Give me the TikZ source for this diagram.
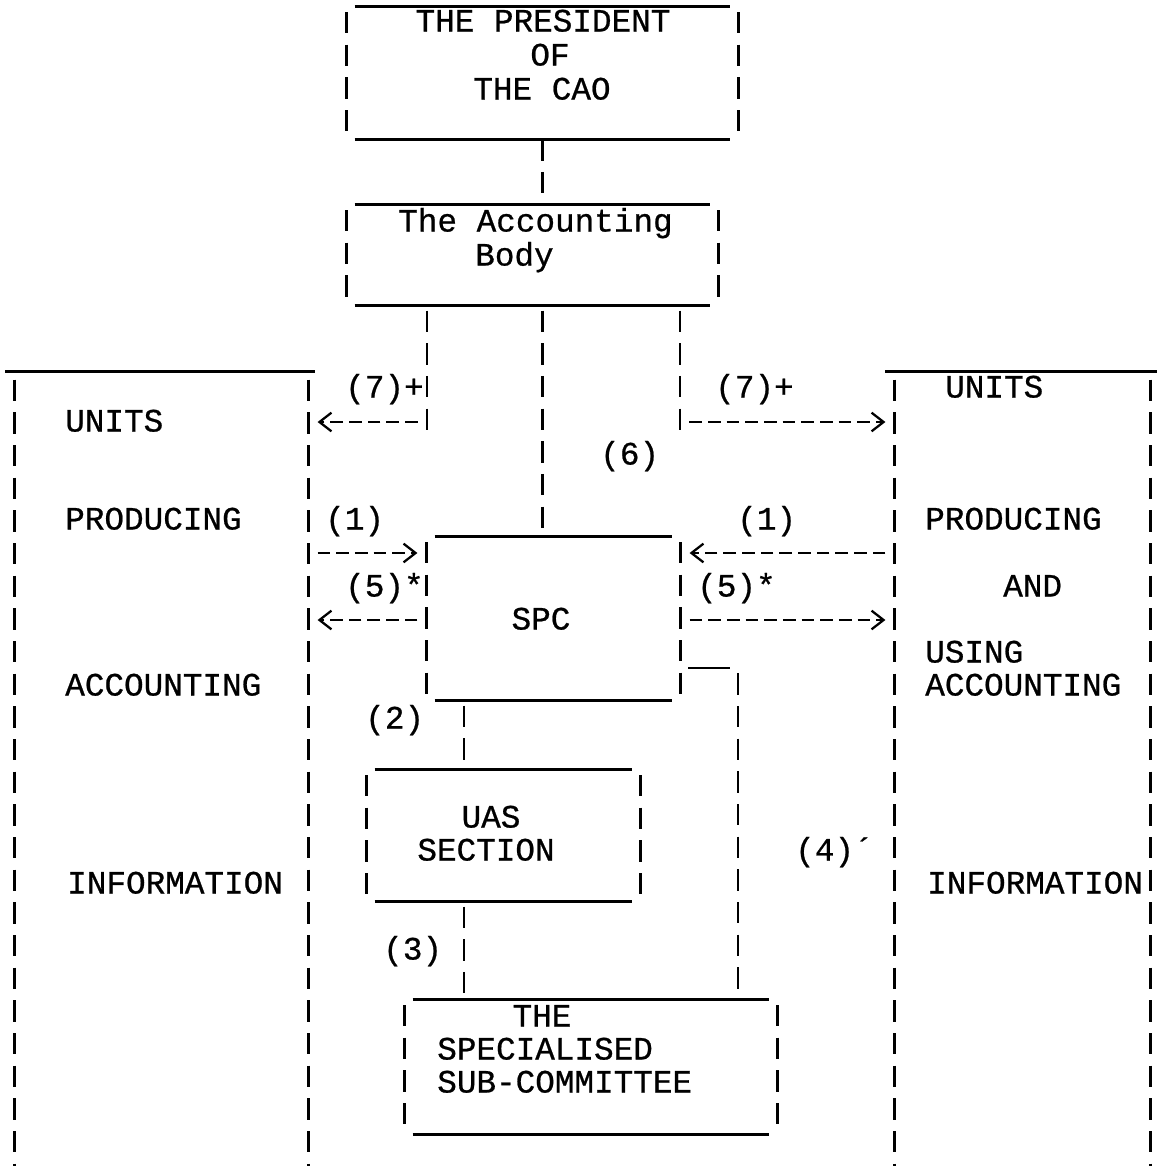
\documentclass[tikz,border=0pt]{standalone}
\usepackage{fontspec}
\setmonofont{Liberation Mono}[FakeBold=0.7]
\usetikzlibrary{arrows.meta,fit}
\begin{document}
\begin{tikzpicture}[x=0.75pt,y=-0.75pt,
  hl/.style={line width=2pt},
  vl/.style={line width=2pt, dash pattern=on 16pt off 8.5pt},
  arr/.style={line width=1.7pt, dash pattern=on 9.5pt off 4.5pt,
    -{Straight Barb[length=9pt,width=14pt]}, shorten >=7pt, shorten <=7pt},
  txt/.style={font=\ttfamily\fontsize{24.5}{30}\selectfont, inner sep=0pt, anchor=mid west, yshift=-5pt},
  ctxt/.style={txt, anchor=mid},
  area/.style={inner sep=0pt, draw=none}]
\useasboundingbox (0,0) rectangle (1156,1166);

% box areas
\coordinate (presA) at (347,7);   \coordinate (presB) at (738,139);
\coordinate (accA) at (347,205);  \coordinate (accB) at (718,305);
\coordinate (lbA) at (15,372);    \coordinate (lbB) at (308,1166);
\coordinate (rbA) at (895,372);   \coordinate (rbB) at (1150,1166);
\coordinate (spcA) at (427,537);  \coordinate (spcB) at (680,700);
\coordinate (uasA) at (367,770);  \coordinate (uasB) at (640,901);
\coordinate (sscA) at (405,1000); \coordinate (sscB) at (777,1134);
\node[area, fit=(presA)(presB)] (pres) {};
\node[area, fit=(accA)(accB)] (acc) {};
\node[area, fit=(lbA)(lbB)] (lbox) {};
\node[area, fit=(rbA)(rbB)] (rbox) {};
\node[area, fit=(spcA)(spcB)] (spc) {};
\node[area, fit=(uasA)(uasB)] (uas) {};
\node[area, fit=(sscA)(sscB)] (ssc) {};

% outlines
\foreach \b in {pres,acc,spc,uas,ssc}{
  \draw[hl] ([xshift=6pt]\b.north west) -- ([xshift=-6pt]\b.north east)
            ([xshift=6pt]\b.south west) -- ([xshift=-6pt]\b.south east);
  \draw[vl] ([yshift=-4pt]\b.north west) -- (\b.south west)
            ([yshift=-4pt]\b.north east) -- (\b.south east);
}
\foreach \b in {lbox,rbox}{
  \draw[hl] ([xshift=-7pt]\b.north west) -- ([xshift=5pt]\b.north east);
  \draw[vl] ([yshift=-6pt]\b.north west) -- (\b.south west)
            ([yshift=-6pt]\b.north east) -- (\b.south east);
}

% helper coordinates
\coordinate (j7l) at (427,437);
\coordinate (j7r) at (680,437);
\coordinate (r7) at (0,422);
\coordinate (r1) at (0,553);
\coordinate (r5) at (0,620);
\coordinate (k4) at (738,668);
\coordinate (x2) at (464,0);

% vertical connectors
\draw[vl] (pres.south) -- (acc.north -| pres.south);
\draw[vl] ([yshift=-4pt]acc.south -| pres.south) -- (spc.north -| pres.south);
\draw[vl] ([yshift=-4pt]acc.south -| j7l) -- (j7l);
\draw[vl] ([yshift=-4pt]acc.south -| j7r) -- (j7r);
\draw[hl] ([xshift=6pt]spc.east |- k4) -- ([xshift=-6pt]k4);
\draw[vl] ([yshift=-4pt]k4) -- (ssc.north -| k4);
\draw[vl] ([yshift=-4pt]spc.south -| x2) -- (uas.north -| x2);
\draw[vl] ([yshift=-4pt]uas.south -| x2) -- (ssc.north -| x2);

% arrows
\draw[arr] (j7l |- r7) -- (lbox.east |- r7);
\draw[arr] (j7r |- r7) -- (rbox.west |- r7);
\draw[arr] (lbox.east |- r1) -- (spc.west |- r1);
\draw[arr] (rbox.west |- r1) -- (spc.east |- r1);
\draw[arr] (spc.west |- r5) -- (lbox.east |- r5);
\draw[arr] (spc.east |- r5) -- (rbox.west |- r5);

% box texts
\node[ctxt] (tp1) at (543,22) {THE PRESIDENT};
\node[ctxt] (tp2) at (550,56) {OF};
\node[ctxt] (tp3) at (542,90) {THE CAO};
\node[txt] (ta1) at (398,222) {The Accounting};
\node[txt] (ta2) at (475,256) {Body};
\node[txt] (tl1) at (65,422) {UNITS};
\node[txt] (tl2) at (65,520) {PRODUCING};
\node[txt] (tl3) at (65,686) {ACCOUNTING};
\node[txt] (tl4) at (67,884) {INFORMATION};
\node[txt] (tr1) at (945,388) {UNITS};
\node[txt] (tr2) at (925,520) {PRODUCING};
\node[txt] (tr3) at (1003,587) {AND};
\node[txt] (tr4) at (925,653) {USING};
\node[txt] (tr5) at (925,686) {ACCOUNTING};
\node[txt] (tr6) at (927,884) {INFORMATION};
\node[ctxt] (ts) at (541,620) {SPC};
\node[ctxt] (tu1) at (491,818) {UAS};
\node[ctxt] (tu2) at (486,851) {SECTION};
\node[ctxt] (tc1) at (542,1017) {THE};
\node[txt] (tc2) at (437,1050) {SPECIALISED};
\node[txt] (tc3) at (437,1083) {SUB-COMMITTEE};

% connector labels
\node[txt] (l7a) at (345,388) {(7)+};
\node[txt] (l7b) at (715,388) {(7)+};
\node[txt] (l6) at (600,455) {(6)};
\node[txt] (l1a) at (325,520) {(1)};
\node[txt] (l1b) at (737,520) {(1)};
\node[txt] (l5a) at (345,587) {(5)*};
\node[txt] (l5b) at (697,587) {(5)*};
\node[txt] (l2) at (365,719) {(2)};
\node[txt] (l3) at (383,950) {(3)};
\node[txt] (l4) at (795,851) {(4)´};
\end{tikzpicture}
\end{document}
